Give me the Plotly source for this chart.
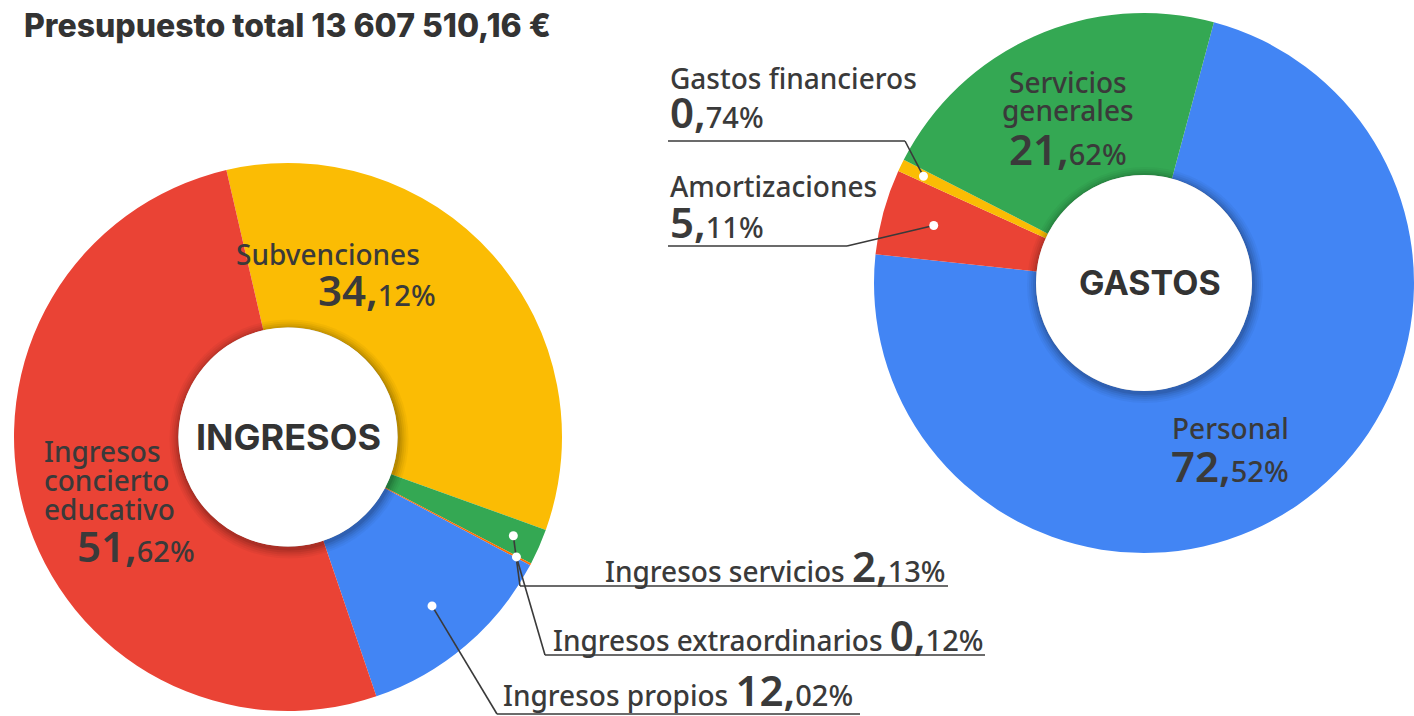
import math
import plotly.graph_objects as go

W, H = 1414, 716

# ---- data ----
title_text = "Presupuesto total 13 607 510,16 €"

ing_labels = ["Subvenciones", "Ingresos servicios", "Ingresos extraordinarios",
              "Ingresos propios", "Ingresos concierto educativo"]
ing_values = [34.12, 2.13, 0.12, 12.02, 51.62]
ing_colors = ["#FBBC04", "#34A853", "#FF6D00", "#4285F4", "#EA4335"]

gas_labels = ["Personal", "Amortizaciones", "Gastos financieros", "Servicios generales"]
gas_values = [72.52, 5.11, 0.74, 21.62]
gas_colors = ["#4285F4", "#EA4335", "#FBBC04", "#34A853"]

# ---- layout geometry (pixels) ----
L_CX, L_CY, L_R, L_ROT = 288, 437, 274, 347
R_CX, R_CY, R_R, R_ROT = 1144, 283, 270, 15
HOLE = 0.4
TXT = "#3a3a3a"
LBL_FONT = "Noto Sans"
HEAD_FONT = "Inter"
LBL = 28


def px(x, y):
    return x / W, 1 - y / H


def domain(cx, cy, r):
    return dict(x=[max(0, (cx - r) / W), min(1, (cx + r) / W)],
                y=[max(0, 1 - (cy + r) / H), min(1, 1 - (cy - r) / H)])


def slice_point(values, rotation, idx, cx, cy, rad):
    total = sum(values)
    start = rotation + 360 * sum(values[:idx]) / total
    mid = start + 180 * values[idx] / total
    a = math.radians(mid)
    return cx + rad * math.sin(a), cy - rad * math.cos(a)


def pct(v, big=42, small=29):
    s = f"{v:.2f}".replace(".", ",")
    ip, dp = s.split(",")
    return (f"<span style='font-size:{big}px;font-weight:600'>{ip},</span>"
            f"<span style='font-size:{small}px'>{dp}%</span>")


fig = go.Figure()
fig.add_trace(go.Pie(labels=ing_labels, values=ing_values, hole=HOLE, sort=False,
                     direction="clockwise", rotation=L_ROT, textinfo="none",
                     marker=dict(colors=ing_colors, line=dict(width=0)),
                     domain=domain(L_CX, L_CY, L_R), showlegend=False, hoverinfo="label+value"))
fig.add_trace(go.Pie(labels=gas_labels, values=gas_values, hole=HOLE, sort=False,
                     direction="clockwise", rotation=R_ROT, textinfo="none",
                     marker=dict(colors=gas_colors, line=dict(width=0)),
                     domain=domain(R_CX, R_CY, R_R), showlegend=False, hoverinfo="label+value"))

shapes = []


def circle(cx, cy, r, color):
    x0, y1 = px(cx - r, cy - r)
    x1, y0 = px(cx + r, cy + r)
    shapes.append(dict(type="circle", xref="paper", yref="paper", x0=x0, x1=x1, y0=y0, y1=y1,
                       fillcolor=color, line=dict(width=0), layer="above"))


def line(pts, color="#3a3a3a", width=1.6):
    for (xa, ya), (xb, yb) in zip(pts[:-1], pts[1:]):
        x0, y0 = px(xa, ya)
        x1, y1 = px(xb, yb)
        shapes.append(dict(type="line", xref="paper", yref="paper", x0=x0, y0=y0, x1=x1, y1=y1,
                           line=dict(color=color, width=width), layer="above"))


# hole shadows + white centres
for cx, cy, r in [(L_CX, L_CY, L_R), (R_CX, R_CY, R_R)]:
    hr = r * HOLE
    for d, a in [(10, 0.035), (8, 0.045), (6, 0.055), (4, 0.07), (2, 0.09)]:
        circle(cx + 1, cy + 2, hr + d, f"rgba(0,0,0,{a})")
    circle(cx, cy, hr, "white")

annotations = []


def ann(x, y, text, size=LBL, xanchor="center", yanchor="middle", family=LBL_FONT,
        color=TXT, weight=500):
    xp, yp = px(x, y)
    annotations.append(dict(x=xp, y=yp, xref="paper", yref="paper", text=text, showarrow=False,
                            xanchor=xanchor, yanchor=yanchor, align="left",
                            font=dict(family=family, size=size, color=color, weight=weight)))


# title and centre labels
ann(22, 26, title_text, size=32, xanchor="left", family=HEAD_FONT, color="#333333", weight=800)
ann(L_CX, L_CY, "INGRESOS", size=36, family=HEAD_FONT, color="#333333", weight=700)
ann(R_CX + 6, R_CY, "GASTOS", size=34, family=HEAD_FONT, color="#333333", weight=700)

# ---- INGRESOS labels ----
ann(328, 254, ing_labels[0])
ann(438, 289, pct(ing_values[0]), xanchor="right")

for i, word in enumerate(ing_labels[4].split(" ")):
    ann(42, 451 + 29 * i, word, xanchor="left")
ann(75, 545, pct(ing_values[4]), xanchor="left")

# Ingresos servicios
d = slice_point(ing_values, L_ROT, 1, L_CX, L_CY, 246)
line([d, (520, 586), (948, 586)])
ann(948, 565, f"{ing_labels[1]} " + pct(ing_values[1]), xanchor="right")
# Ingresos extraordinarios
d2 = slice_point(ing_values, L_ROT, 2, L_CX, L_CY, 258)
line([d2, (545, 655), (985, 655)])
ann(985, 634, f"{ing_labels[2]} " + pct(ing_values[2]), xanchor="right")
# Ingresos propios
d3 = slice_point(ing_values, L_ROT, 3, L_CX, L_CY, 222)
line([d3, (497, 714), (860, 714)])
ann(855, 689, f"{ing_labels[3]} " + pct(ing_values[3]), xanchor="right")
for p in (d, d2, d3):
    circle(p[0], p[1], 4.5, "white")

# ---- GASTOS labels ----
ann(1230, 428, gas_labels[0])
ann(1230, 465, pct(gas_values[0]))

sg = gas_labels[3].split(" ")
ann(1068, 82, sg[0])
ann(1068, 110, sg[1])
ann(1068, 149, pct(gas_values[3]))

ann(668, 78, gas_labels[2], xanchor="left")
ann(668, 111, pct(gas_values[2]), xanchor="left")
g1 = slice_point(gas_values, R_ROT, 2, R_CX, R_CY, 245)
line([(668, 141), (905, 141), g1])

ann(668, 186, gas_labels[1], xanchor="left")
ann(668, 221, pct(gas_values[1]), xanchor="left")
g2 = slice_point(gas_values, R_ROT, 1, R_CX, R_CY, 218)
line([(668, 246), (847, 246), g2])
for p in (g1, g2):
    circle(p[0], p[1], 4.5, "white")

fig.update_layout(width=W, height=H, margin=dict(l=0, r=0, t=0, b=0),
                  paper_bgcolor="white", plot_bgcolor="white",
                  shapes=shapes, annotations=annotations)

fig.write_html("out.html")
